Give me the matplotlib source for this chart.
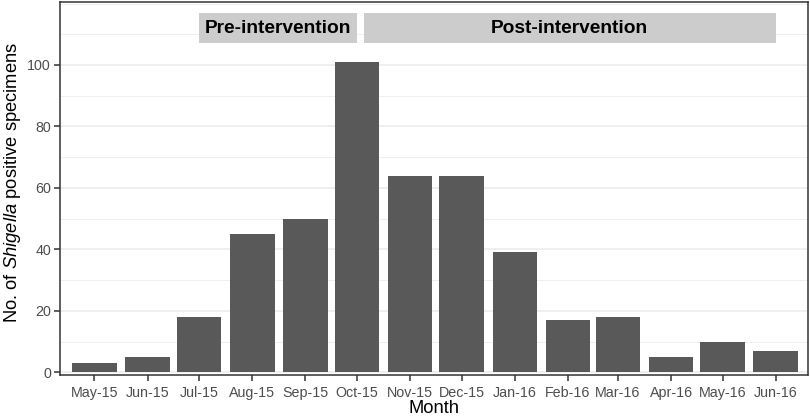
import matplotlib
matplotlib.use("Agg")
import matplotlib.pyplot as plt
import matplotlib.dates as mdates
from matplotlib.ticker import MultipleLocator
import datetime as dt

months = ["2015-05-01", "2015-06-01", "2015-07-01", "2015-08-01", "2015-09-01",
          "2015-10-01", "2015-11-01", "2015-12-01", "2016-01-01", "2016-02-01",
          "2016-03-01", "2016-04-01", "2016-05-01", "2016-06-01"]
counts = [3, 5, 18, 45, 50, 101, 64, 64, 39, 17, 18, 5, 10, 7]
tick_labels = ["May-15", "Jun-15", "Jul-15", "Aug-15", "Sep-15", "Oct-15", "Nov-15",
               "Dec-15", "Jan-16", "Feb-16", "Mar-16", "Apr-16", "May-16", "Jun-16"]
periods = ["Pre-intervention", "Post-intervention"]
period_start = ["2015-07-01", "2015-10-05"]
period_end = ["2015-10-01", "2016-06-01"]
period_ymin = 107
period_ymax = 117

plt.rcParams['font.family'] = ['Liberation Sans', 'DejaVu Sans']
plt.rcParams['mathtext.fontset'] = 'custom'
plt.rcParams['mathtext.rm'] = 'Liberation Sans'
plt.rcParams['mathtext.it'] = 'Liberation Sans:italic'

W, H = 810, 417
fig = plt.figure(figsize=(W / 100, H / 100), dpi=100)
ax = fig.add_axes([60 / W, 1 - 375 / H, (808 - 60) / W, (375 - 2) / H])

x = [mdates.date2num(dt.datetime.strptime(m, "%Y-%m-%d")) for m in months]
ax.bar(x, counts, width=26, color="#595959", zorder=3)

for lab, s, e in zip(periods, period_start, period_end):
    xs = mdates.date2num(dt.datetime.strptime(s, "%Y-%m-%d"))
    xe = mdates.date2num(dt.datetime.strptime(e, "%Y-%m-%d"))
    ax.fill_between([xs, xe], period_ymin, period_ymax, color="#CCCCCC", lw=0, zorder=4)
    ax.text((xs + xe) / 2, (period_ymin + period_ymax) / 2, lab, ha="center", va="center",
            fontsize=13.8, fontweight="bold", color="black", zorder=5)

x0 = mdates.date2num(dt.datetime(2015, 5, 1))
ax.set_xlim(x0 - 20, x[-1] + 18.8)
ax.set_ylim(-0.9, 120.5)

ax.set_xticks(x)
ax.set_xticklabels(tick_labels)
ax.yaxis.set_minor_locator(MultipleLocator(10))
ax.set_yticks([0, 20, 40, 60, 80, 100])

ax.grid(axis="y", which="major", color="#EBEBEB", lw=1.1, zorder=0)
ax.grid(axis="y", which="minor", color="#EBEBEB", lw=0.55, zorder=0)
ax.grid(axis="x", visible=False)
ax.set_axisbelow(True)

for sp in ax.spines.values():
    sp.set_color("#333333")
    sp.set_linewidth(1.1)

ax.tick_params(axis="both", which="major", length=4, width=1.1, color="#333333",
               labelcolor="#4D4D4D", labelsize=10.3)
ax.tick_params(axis="x", which="major", pad=4)
ax.tick_params(axis="y", which="major", pad=2.5)
ax.tick_params(axis="y", which="minor", length=0)

ax.set_xlabel("Month", fontsize=13.2, color="black", labelpad=0)
ax.set_ylabel(r"No. of $\it{Shigella}$ positive specimens", fontsize=13.2, color="black", labelpad=3)
ax.yaxis.label.set_y(0.516)

fig.savefig("out.png", dpi=100)
